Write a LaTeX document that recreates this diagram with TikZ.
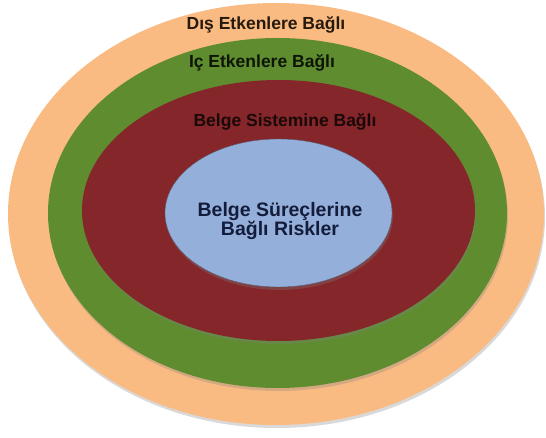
\documentclass[tikz,border=0pt]{standalone}
\usepackage{fontspec}
\setmainfont{Liberation Sans}
\usetikzlibrary{shapes.geometric,shadows}
\definecolor{peach}{RGB}{249,187,130}
\definecolor{leafgreen}{RGB}{94,140,47}
\definecolor{darkred}{RGB}{132,38,42}
\definecolor{paleblue}{RGB}{148,176,218}
\definecolor{navy}{RGB}{20,28,60}

\begin{document}
\begin{tikzpicture}[x=1pt, y=-1pt,
            ring/.style={ellipse, inner sep=0pt, drop shadow={shadow xshift=1pt, shadow yshift=-3pt, opacity=0.3}},
            ringlabel/.style={font=\fontsize{17.5}{18}\selectfont\bfseries}
        ]
        \useasboundingbox (0,0) rectangle (546,438);

        \node[ring, fill=peach, minimum width=536, minimum height=422] (outer) at (276,214) {};
        \node[ring, fill=leafgreen, minimum width=459, minimum height=350] (inner) at (277.5,213) {};
        \node[ring, fill=darkred, minimum width=393, minimum height=261] (system) at (278.5,210.5) {};
        \node[ring, fill=paleblue, draw=navy!70, thin, minimum width=227, minimum height=148] (process) at (278.5,213) {};
        \node[align=center, text=navy, font=\fontsize{19.5}{18}\selectfont\bfseries] (processlabel) at (280,221)
              {Belge Süreçlerine\\Bağlı Riskler};

        % Katman etiketleri
        \node[ringlabel, text=black!80!brown] (outerlabel) at (266,25) {Dış Etkenlere Bağlı};
        \node[ringlabel, text=black!85!leafgreen] (innerlabel) at (262,63) {Iç Etkenlere Bağlı};
        \node[ringlabel, text=black!80!darkred] (systemlabel) at (285,122) {Belge Sistemine Bağlı};
\end{tikzpicture}
\end{document}
